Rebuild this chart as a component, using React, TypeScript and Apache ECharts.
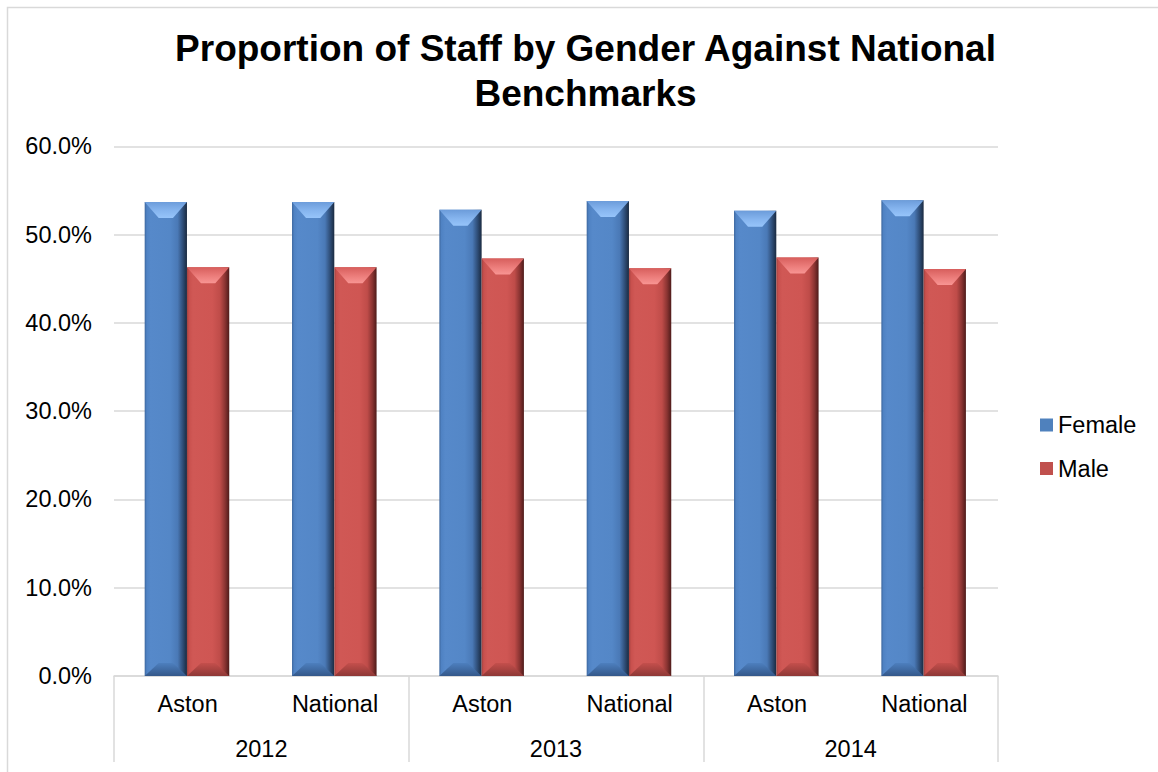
import React, { useEffect, useRef } from "react";
import * as echarts from "echarts";

// Staff gender split by year and comparator (percent of staff)
const groups = ["Aston", "National", "Aston", "National", "Aston", "National"];
const years = ["2012", "2013", "2014"];
const female = [53.7, 53.7, 52.8, 53.8, 52.7, 53.9];
const male = [46.3, 46.3, 47.3, 46.2, 47.4, 46.1];
const yTicks = { min: 0, max: 60, interval: 10 };

const FONT = "'Liberation Sans', Arial, sans-serif";

// Bevelled bar shading per series: body (left→right), top bevel, bottom bevel
const palettes = [
  {
    base: "#4F81BD",
    body: [
      { offset: 0, color: "#3d679e" },
      { offset: 0.05, color: "#4f82c3" },
      { offset: 0.14, color: "#5689ca" },
      { offset: 0.6, color: "#5487c7" },
      { offset: 0.78, color: "#4a79b6" },
      { offset: 0.9, color: "#2f4e78" },
      { offset: 1, color: "#1a2a40" },
    ],
    top: [
      { offset: 0, color: "#6c9cda" },
      { offset: 0.55, color: "#86b5ef" },
      { offset: 1, color: "#96c4fa" },
    ],
    bottom: [
      { offset: 0, color: "#4d7fbe" },
      { offset: 1, color: "#34588a" },
    ],
  },
  {
    base: "#C0504D",
    body: [
      { offset: 0, color: "#a04240" },
      { offset: 0.05, color: "#c8504d" },
      { offset: 0.14, color: "#d05855" },
      { offset: 0.6, color: "#cf5653" },
      { offset: 0.78, color: "#bf4c49" },
      { offset: 0.9, color: "#8a3432" },
      { offset: 1, color: "#4e1b1a" },
    ],
    top: [
      { offset: 0, color: "#d75e5c" },
      { offset: 0.55, color: "#ec7d7b" },
      { offset: 1, color: "#f89593" },
    ],
    bottom: [
      { offset: 0, color: "#c44f4c" },
      { offset: 1, color: "#8e3836" },
    ],
  },
];

function renderBevelBar(params: any, api: any) {
  const ci = api.value(0);
  const v = api.value(1);
  const top = api.coord([ci, v]);
  const base = api.coord([ci, 0]);
  const band = api.size([1, 0])[0];
  const w = band * 0.287;
  const x0 = params.seriesIndex === 0 ? top[0] - w - 0.7 : top[0] - 0.7;
  const x1 = x0 + w;
  const y0 = top[1];
  const y1 = base[1];
  const pal = palettes[params.seriesIndex];
  const dx = 14;
  const dyTop = 16;
  const dyBot = 13;
  return {
    type: "group",
    children: [
      {
        type: "rect",
        shape: { x: x0, y: y0, width: w, height: y1 - y0 },
        style: { fill: new echarts.graphic.LinearGradient(0, 0, 1, 0, pal.body) },
      },
      {
        type: "polygon",
        shape: {
          points: [
            [x0, y0],
            [x1, y0],
            [x1 - dx, y0 + dyTop],
            [x0 + dx, y0 + dyTop],
          ],
        },
        style: { fill: new echarts.graphic.LinearGradient(0, 0, 0, 1, pal.top) },
      },
      {
        type: "polygon",
        shape: {
          points: [
            [x0, y1],
            [x1, y1],
            [x1 - dx, y1 - dyBot],
            [x0 + dx, y1 - dyBot],
          ],
        },
        style: { fill: new echarts.graphic.LinearGradient(0, 0, 0, 1, pal.bottom) },
      },
    ],
  };
}

export default function App() {
  const ref = useRef<HTMLDivElement>(null);

  useEffect(() => {
    if (!ref.current) return;
    const chart = echarts.init(ref.current, undefined, { renderer: "svg" });
    chart.setOption({
      animation: false,
      backgroundColor: "#ffffff",
      textStyle: { fontFamily: FONT },
      graphic: [
        {
          type: "rect",
          shape: { x: 7.5, y: 7.5, width: 1300, height: 900 },
          style: { fill: "none", stroke: "#d9d9d9", lineWidth: 1.5 },
          silent: true,
        },
      ],
      title: {
        text: "Proportion of Staff by Gender Against National\nBenchmarks",
        left: 585.5,
        top: 26,
        padding: 0,
        textAlign: "center",
        textStyle: {
          fontFamily: FONT,
          fontSize: 37,
          fontWeight: "bold",
          color: "#000000",
          lineHeight: 45,
        },
      },
      legend: {
        data: ["Female", "Male"],
        orient: "vertical",
        left: 1040,
        top: 413,
        padding: 0,
        icon: "rect",
        itemWidth: 13,
        itemHeight: 13,
        itemGap: 19.5,
        textStyle: { fontFamily: FONT, fontSize: 23.5, color: "#000000", lineHeight: 24 },
      },
      grid: { left: 114, right: 160, top: 146.3, bottom: 96 },
      xAxis: [
        {
          type: "category",
          data: groups,
          position: "bottom",
          axisLine: { show: true, lineStyle: { color: "#d9d9d9", width: 1.5 } },
          axisTick: { show: false },
          axisLabel: {
            interval: 0,
            margin: 16,
            fontFamily: FONT,
            fontSize: 23.5,
            color: "#000000",
          },
          splitLine: { show: false },
        },
        {
          type: "category",
          data: years,
          position: "bottom",
          axisLine: { show: false },
          axisTick: {
            show: true,
            interval: 0,
            length: 86,
            lineStyle: { color: "#d9d9d9", width: 1.5 },
          },
          axisLabel: {
            interval: 0,
            margin: 60.5,
            fontFamily: FONT,
            fontSize: 23.5,
            color: "#000000",
          },
          splitLine: { show: false },
        },
      ],
      yAxis: {
        type: "value",
        min: yTicks.min,
        max: yTicks.max,
        interval: yTicks.interval,
        axisLine: { show: false },
        axisTick: { show: false },
        axisLabel: {
          margin: 22,
          fontFamily: FONT,
          fontSize: 23.5,
          color: "#000000",
          formatter: (v: number) => `${v.toFixed(1)}%`,
        },
        splitLine: { show: true, lineStyle: { color: "#d9d9d9", width: 1.5 } },
      },
      series: [
        {
          name: "Female",
          type: "custom",
          xAxisIndex: 0,
          yAxisIndex: 0,
          itemStyle: { color: palettes[0].base },
          encode: { x: 0, y: 1 },
          data: female.map((v, i) => [i, v]),
          renderItem: renderBevelBar,
          z: 3,
        },
        {
          name: "Male",
          type: "custom",
          xAxisIndex: 0,
          yAxisIndex: 0,
          itemStyle: { color: palettes[1].base },
          encode: { x: 0, y: 1 },
          data: male.map((v, i) => [i, v]),
          renderItem: renderBevelBar,
          z: 3,
        },
      ],
    });
    return () => chart.dispose();
  }, []);

  return (
    <div
      ref={ref}
      style={{ position: "fixed", left: 0, top: 0, width: 1158, height: 772 }}
    />
  );
}
